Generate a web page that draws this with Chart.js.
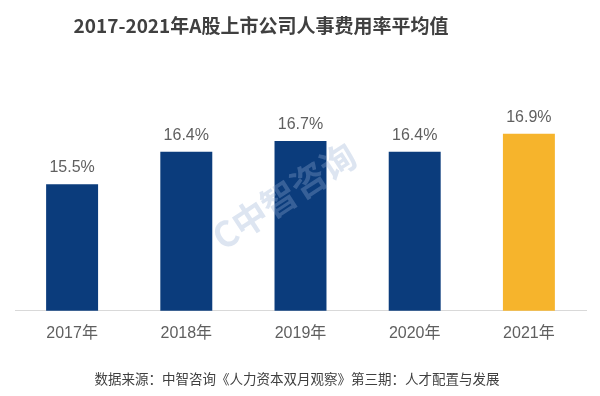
<!DOCTYPE html>
<html>
<head>
<meta charset="utf-8">
<script src="https://cdn.jsdelivr.net/npm/chart.js@4"></script>
<style>
  html, body { margin:0; padding:0; background:#fff; }
  #wrap { position:relative; width:600px; height:396px; overflow:hidden; }
  #title { position:absolute; left:0; top:12px; width:522px; text-align:center;
    font-family:"Noto Sans CJK SC","Liberation Sans",sans-serif; font-weight:bold; font-size:19px; color:#404040; line-height:26px; }
  #source { position:absolute; left:0; top:369px; width:594px; text-align:center;
    font-family:"Noto Sans CJK SC",sans-serif; font-size:13.5px; color:#404040; line-height:18px; }
  canvas { position:absolute; left:0; top:0; }
</style>
</head>
<body>
<div id="wrap">
  <canvas id="c" width="600" height="396"></canvas>
  <div id="title">2017-2021年A股上市公司人事费用率平均值</div>
  <div id="source">数据来源：中智咨询《人力资本双月观察》第三期：人才配置与发展</div>
</div>
<script>
const categories = ["2017年", "2018年", "2019年", "2020年", "2021年"];
const values = [15.5, 16.4, 16.7, 16.4, 16.9];
const valueLabels = ["15.5%", "16.4%", "16.7%", "16.4%", "16.9%"];
const barColors = ["#0b3c7c", "#0b3c7c", "#0b3c7c", "#0b3c7c", "#f6b42c"];

const labelPlugin = {
  id: 'valueLabels',
  afterDatasetsDraw(chart) {
    const ctx = chart.ctx;
    const meta = chart.getDatasetMeta(0);
    ctx.save();
    ctx.font = '16px "Liberation Sans", Arial, sans-serif';
    ctx.fillStyle = '#606060';
    ctx.textAlign = 'center';
    ctx.textBaseline = 'alphabetic';
    meta.data.forEach((bar, i) => {
      ctx.fillText(valueLabels[i], bar.x, bar.y - 12);
    });
    ctx.restore();
  },
  afterDraw(chart) {
    const ctx = chart.ctx;
    ctx.save();
    ctx.translate(284, 196);
    ctx.rotate(-33 * Math.PI / 180);
    ctx.font = 'bold 35px "Noto Sans CJK SC", sans-serif';
    ctx.fillStyle = 'rgba(150,175,210,0.32)';
    ctx.textAlign = 'center';
    ctx.textBaseline = 'middle';
    ctx.fillText('C中智咨询', 0, 0);
    ctx.restore();
  }
};

new Chart(document.getElementById('c'), {
  type: 'bar',
  data: {
    labels: categories,
    datasets: [{
      data: values,
      backgroundColor: barColors,
      borderWidth: 0,
      categoryPercentage: 1,
      barPercentage: 0.455
    }]
  },
  options: {
    responsive: false,
    animation: false,
    devicePixelRatio: 1,
    layout: { padding: { left: 15, right: 14, top: 94, bottom: 48 } },
    plugins: { legend: { display: false }, title: { display: false }, tooltip: { enabled: false } },
    scales: {
      x: {
        grid: { display: false },
        border: { display: true, color: '#d9d9d9', width: 1 },
        ticks: { color: '#5f5f5f', padding: 5, font: { size: 16, family: '"Liberation Sans", "Noto Sans CJK SC", sans-serif' } }
      },
      y: {
        display: false,
        min: 12,
        max: 18
      }
    }
  },
  plugins: [labelPlugin]
});
</script>
</body>
</html>
